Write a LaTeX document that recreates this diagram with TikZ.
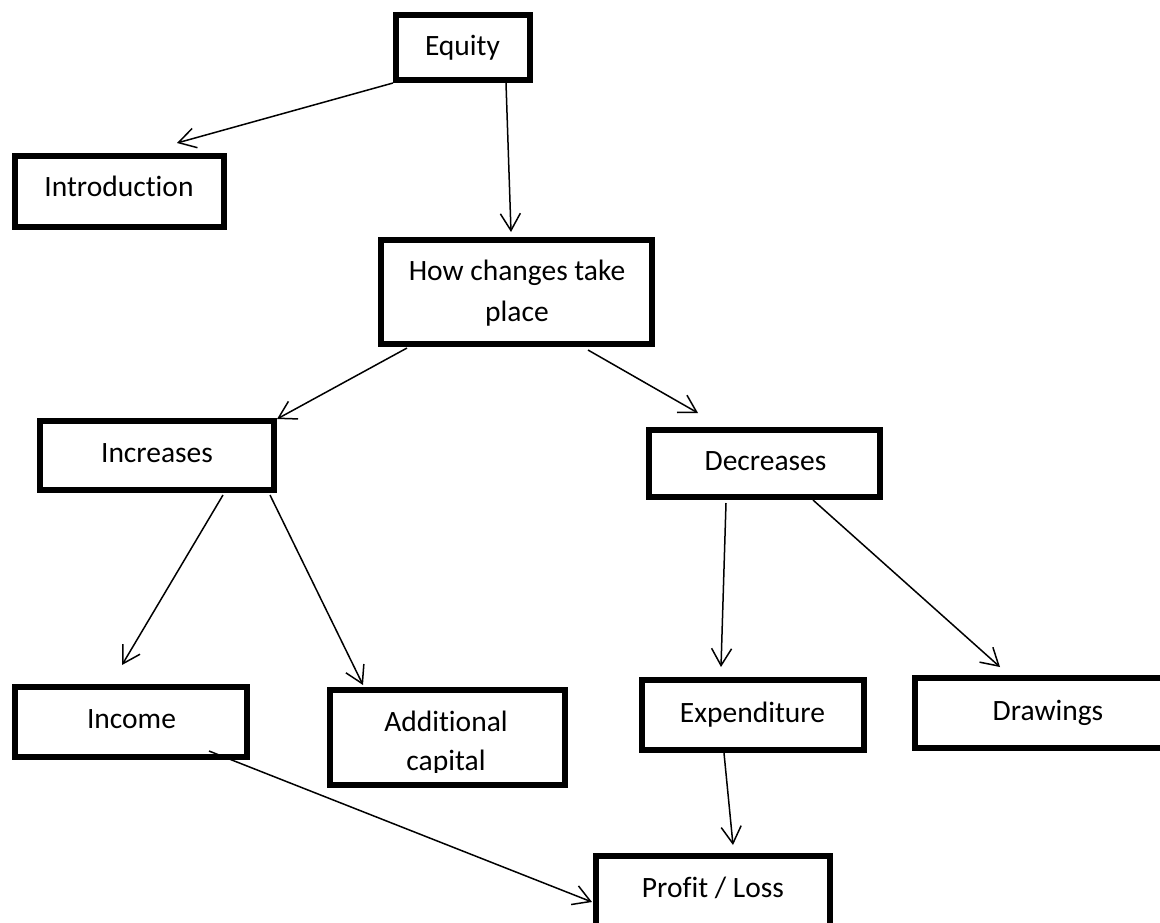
\documentclass[tikz,border=0pt]{standalone}
\usepackage{fontspec}
\setmainfont{Carlito}[Ligatures={NoCommon}]
\usetikzlibrary{arrows.meta,calc}

\begin{document}
\begin{tikzpicture}[x=1pt,y=-1pt,
  box/.style={draw=black,line width=6.3pt,rectangle,inner sep=0pt,outer sep=0pt,fill=white},
  txt/.style={inner sep=0pt,outer sep=0pt,anchor=center,text height=19pt,text depth=0pt,
    font=\fontsize{29.5}{35}\selectfont},
  link/.style={draw=black,line width=1.5pt,-{Straight Barb[length=17pt,width=20pt,line width=1.5pt]}}
]
\useasboundingbox (0,0) rectangle (1160,922);
\fill[white] (0,0) rectangle (1160,922);
\clip (0,0) rectangle (1160,922);

% boxes
\node[box,minimum width=134pt,minimum height=65pt]  (eq)     at (463,47.5)   {};
\node[box,minimum width=209pt,minimum height=71pt]  (intro)  at (119.5,191.5) {};
\node[box,minimum width=271pt,minimum height=104pt] (how)    at (516.5,292)  {};
\node[box,minimum width=234pt,minimum height=69pt]  (inc)    at (157,455.5)  {};
\node[box,minimum width=231pt,minimum height=67pt]  (dec)    at (764.5,463.5) {};
\node[box,minimum width=232pt,minimum height=70pt]  (income) at (131,722)    {};
\node[box,minimum width=235pt,minimum height=95pt]  (addl)   at (447.5,737.5) {};
\node[box,minimum width=222pt,minimum height=70pt]  (exp)    at (753,715)    {};
\node[box,minimum width=265pt,minimum height=70pt]  (drw)    at (1047.5,713) {};
\node[box,minimum width=234pt,minimum height=94pt]  (pl)     at (713,903)    {};

% labels
\node[txt] (eq-t)     at (462.5,46)  {Equity};
\node[txt] (intro-t)  at (119,187)   {Introduction};
\node[txt] (how-t1)   at (517,271)   {How changes take};
\node[txt] (how-t2)   at (517,312)   {place};
\node[txt] (inc-t)    at (157,453)   {Increases};
\node[txt] (dec-t)    at (765.5,461) {Decreases};
\node[txt] (income-t) at (131.5,718.5) {Income};
\node[txt] (addl-t1)  at (446,722)   {Additional};
\begin{scope}
  \clip (334,694) rectangle (561,772);
  \node[txt] (addl-t2) at (446,760.5) {capital};
\end{scope}
\node[txt] (exp-t)    at (752.5,713) {Expenditure};
\node[txt] (drw-t)    at (1048,711)  {Drawings};
\node[txt] (pl-t)     at (713,888)   {Profit / Loss};

% connectors
\draw[link] ($(eq.south west)+(-3,3)$)   -- ($(intro.north east)+(-47,-13)$);
\draw[link] ($(eq.south)+(43,3)$)        -- ($(how.north)+(-5.5,-8)$);
\draw[link] ($(how.south west)+(26,4)$)  -- ($(inc.north east)+(3,-2)$);
\draw[link] ($(how.south)+(71.5,6)$)     -- ($(dec.north west)+(49,-17)$);
\draw[link] ($(inc.south)+(66,5)$)       -- ($(income.north)+(-9,-22)$);
\draw[link] ($(inc.south east)+(-4,5)$)  -- ($(addl.north west)+(33,-5)$);
\draw[link] ($(dec.south)+(-38.5,6)$)    -- ($(exp.north)+(-32,-13)$);
\draw[link] ($(dec.south)+(48.5,3)$)     -- ($(drw.north west)+(85,-11)$);
\draw[link] ($(income.south east)+(-38,-6)$) -- ($(pl.north west)+(-4,46)$);
\draw[link] ($(exp.south)+(-29,3)$)      -- ($(pl.north)+(20,-11)$);
\end{tikzpicture}
\end{document}
